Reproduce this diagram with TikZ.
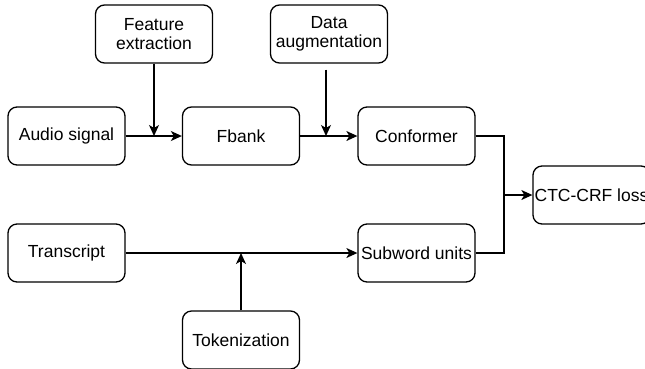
\documentclass[tikz,border=0pt]{standalone}
\usepackage{fontspec}
\setmainfont{Liberation Sans}
\usetikzlibrary{arrows.meta}

\begin{document}
\begin{tikzpicture}[x=1pt,y=-1pt,
  blk/.style={draw,line width=1.3pt,rounded corners=9pt,minimum width=117pt,minimum height=58pt,
    align=center,inner sep=0pt,font=\fontsize{17.5}{19.5}\selectfont},
  arr/.style={line width=1.3pt,-{Stealth[length=11pt,width=10pt,inset=3pt]}},
  ln/.style={line width=1.3pt}]
\useasboundingbox (0,0) rectangle (645,368);
%top row
\node[blk] (feat) at (154,34) {Feature\\extraction};
\node[blk] (aug) at (329,34) {Data\\augmentation};
%audio path
\node[blk] (audio) at (66.5,136) {Audio signal};
\node[blk] (fbank) at (241,136) {Fbank};
\node[blk] (conf) at (416.5,136) {Conformer};
%text path
\node[blk] (trans) at (66.5,253) {Transcript};
\node[blk] (sub) at (416.5,253) {Subword units};
\node[blk] (tok) at (241,340) {Tokenization};
%loss
\node[blk] (ctc) at (591.5,195) {CTC-CRF loss};
\coordinate (join) at (504,195);
\draw[arr] (audio) -- (fbank);
\draw[arr] (fbank) -- (conf);
\draw[arr] (feat) -- (feat |- fbank.west);
\draw[arr,shorten <=6pt] (aug.south -| 326,0) -- (326,136);
\draw[arr] (trans) -- (sub);
\draw[arr] (tok) -- (tok |- sub.west);
\draw[ln] (conf.east) -| (join);
\draw[ln] (sub.east) -| (join);
\draw[arr] (join) -- (ctc.west);
\end{tikzpicture}
\end{document}
